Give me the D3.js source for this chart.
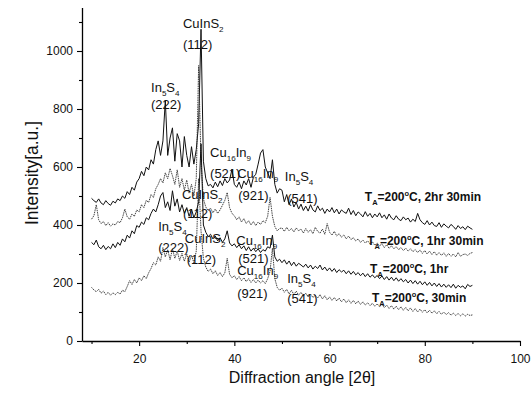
<!DOCTYPE html>
<html><head><meta charset="utf-8">
<script src="https://cdn.jsdelivr.net/npm/d3@7"></script>
<style>body{margin:0;background:#fff}svg{display:block}text{font-family:"Liberation Sans",Arial,sans-serif}</style>
</head><body>
<script>
// ---- data ----
const angles = [
10,10.5,11,11.5,12,12.5,13,13.5,14,14.5,
15,15.5,16,16.5,17,17.5,18,18.5,19,19.5,
20,20.5,21,21.5,22,22.5,23,23.5,24,24.5,
25,25.5,26,26.5,27,27.5,28,28.5,29,29.5,
30,30.5,31,31.5,32,32.5,33,33.5,34,34.5,
35,35.5,36,36.5,37,37.5,38,38.5,39,39.5,
40,40.5,41,41.5,42,42.5,43,43.5,44,44.5,
45,45.5,46,46.5,47,47.5,48,48.5,49,49.5,
50,50.5,51,51.5,52,52.5,53,53.5,54,54.5,
55,55.5,56,56.5,57,57.5,58,58.5,59,59.5,
60,60.5,61,61.5,62,62.5,63,63.5,64,64.5,
65,65.5,66,66.5,67,67.5,68,68.5,69,69.5,
70,70.5,71,71.5,72,72.5,73,73.5,74,74.5,
75,75.5,76,76.5,77,77.5,78,78.5,79,79.5,
80,80.5,81,81.5,82,82.5,83,83.5,84,84.5,
85,85.5,86,86.5,87,87.5,88,88.5,89,89.5,
90];

const int2h30 = [
492,484,478,490,476,470,484,474,468,482,
476,490,484,500,492,515,505,530,520,548,
560,585,570,600,590,625,610,660,690,640,
690,830,640,700,735,620,715,690,600,705,
640,600,670,610,660,750,1075,620,560,535,
540,528,548,532,552,536,560,545,555,592,
540,530,548,525,552,538,560,530,565,575,
610,648,660,600,580,560,625,540,510,525,
520,480,505,470,490,462,478,455,472,450,
465,448,470,452,445,466,450,458,440,455,
445,460,442,455,438,452,445,440,458,436,
450,432,445,438,428,446,430,440,425,438,
428,442,425,435,420,438,424,418,432,420,
415,428,418,424,410,420,412,440,418,408,
402,415,400,410,398,395,408,392,404,396,
390,402,395,385,398,388,394,384,396,390,
385];

const int1h30 = [
420,432,470,418,405,412,398,408,396,404,
400,412,408,425,455,428,420,438,430,452,
445,470,460,485,478,505,495,525,540,560,
545,580,560,595,570,540,590,530,560,520,
555,510,540,500,560,950,620,490,462,450,
458,442,455,440,452,468,485,512,460,440,
432,418,428,410,422,405,415,400,412,398,
410,402,415,408,430,495,430,395,380,388,
390,378,392,380,388,376,390,380,386,372,
388,375,384,370,392,378,372,386,368,405,
375,365,378,362,370,358,366,352,362,350,
356,345,352,340,348,338,345,335,342,330,
338,328,335,322,332,320,328,318,325,315,
322,312,320,310,318,308,315,305,314,302,
312,300,310,298,308,296,305,295,304,292,
302,292,300,290,305,292,298,300,295,302,
305];

const int1h = [
340,332,348,325,318,330,315,326,318,335,
322,340,330,352,342,365,355,380,370,398,
392,410,402,425,418,440,455,445,470,500,
512,460,480,450,518,465,490,445,470,440,
460,430,455,425,445,480,680,400,375,360,
368,352,362,345,356,340,352,380,338,328,
335,322,332,318,328,312,325,310,320,308,
318,305,315,310,325,320,365,290,275,282,
270,280,265,276,260,272,258,268,262,255,
265,252,262,248,258,250,262,245,255,242,
252,240,250,236,246,238,244,232,242,230,
240,228,236,225,234,222,232,220,228,218,
226,215,224,212,222,210,220,208,218,206,
215,204,212,200,210,198,208,196,206,194,
204,192,202,190,200,188,198,186,196,185,
194,184,196,182,192,185,190,180,195,188,
192];

const int30m = [
185,176,170,178,165,172,160,168,158,166,
160,168,162,175,170,188,208,195,212,200,
218,208,225,215,235,250,270,262,290,275,
322,290,315,280,318,285,310,278,302,275,
300,272,295,270,310,560,380,285,255,240,
248,232,242,226,236,222,235,285,230,218,
225,212,222,208,218,205,215,202,212,200,
210,200,208,198,215,240,320,215,185,175,
182,168,178,162,175,160,172,158,168,155,
165,152,162,150,158,148,160,145,156,142,
152,140,150,138,148,135,145,132,142,130,
140,128,138,126,135,124,132,122,130,120,
128,118,126,115,124,112,122,110,120,108,
118,106,116,104,114,102,112,100,110,99,
108,97,106,96,104,94,102,92,100,91,
98,89,96,88,95,87,94,86,92,88,
90];

const xMajorTicks = [20,40,60,80,100];
const xMinorTicks = [10,30,50,70,90];
const yMajorTicks = [0,200,400,600,800,1000];
const yMinorTicks = [100,300,500,700,900,1100];

// peak annotations: [text, angle, intensity]
const peakLabels = [
  ["CuInS_{2}", 29.2, 1079], ["(112)", 29.2, 1007],
  ["In_{5}S_{4}", 22.5, 859], ["(222)", 22.5, 800],
  ["Cu_{16}In_{9}", 34.9, 634], ["(521)", 34.9, 562],
  ["Cu_{16}In_{9}", 40.6, 562], ["(921)", 40.8, 486],
  ["In_{5}S_{4}", 50.6, 552], ["(541)", 51.1, 476],
  ["CuInS_{2}", 29.0, 490], ["(112)", 29.2, 424],
  ["In_{5}S_{4}", 24.0, 379], ["(222)", 24.0, 307],
  ["CuInS_{2}", 29.6, 338], ["(112)", 30.0, 266],
  ["Cu_{16}In_{9}", 40.4, 331], ["(521)", 40.8, 269],
  ["Cu_{16}In_{9}", 40.6, 228], ["(921)", 40.6, 148],
  ["In_{5}S_{4}", 51.1, 200], ["(541)", 51.1, 131]
];
// series labels: [text, angle, intensity]
const seriesLabels = [
  ["T_{A}=200^{o}C, 2hr 30min", 67.4, 483],
  ["T_{A}=200^{o}C, 1hr 30min", 67.9, 331],
  ["T_{A}=200^{o}C, 1hr", 68.5, 234],
  ["T_{A}=200^{o}C, 30min", 68.9, 134]
];
const series = [
  {values: int2h30, dotted: false},
  {values: int1h30, dotted: true},
  {values: int1h, dotted: false},
  {values: int30m, dotted: true}
];

// ---- drawing ----
const W = 531, H = 393;
const svg = d3.select("body").append("svg").attr("width", W).attr("height", H);
svg.append("rect").attr("width", W).attr("height", H).attr("fill", "#fff");

const x = d3.scaleLinear().domain([8, 100]).range([82, 520]);
const y = d3.scaleLinear().domain([0, 1150]).range([341, 7.5]);

const line = d3.line().x((d, i) => x(angles[i])).y(d => y(d));
series.forEach(s => {
  svg.append("path").datum(s.values)
    .attr("d", line)
    .attr("fill", "none")
    .attr("stroke", s.dotted ? "#2e2e2e" : "#111")
    .attr("stroke-width", s.dotted ? 0.9 : 1)
    .attr("stroke-dasharray", s.dotted ? "1.5 0.8" : null)
    .attr("stroke-linejoin", "round");
});

function styleAxis(g) {
  g.selectAll("path.domain").attr("stroke", "#000").attr("stroke-width", 1.3);
  g.selectAll(".tick line").attr("stroke", "#000").attr("stroke-width", 1.1);
  g.selectAll(".tick text").attr("fill", "#111").attr("font-size", 12)
    .attr("font-family", "Liberation Sans, Arial, sans-serif");
}

const gx = svg.append("g").attr("transform", `translate(0,${y(0)})`)
  .call(d3.axisBottom(x).tickValues(xMajorTicks).tickSize(5).tickSizeOuter(0).tickPadding(8).tickFormat(d3.format("d")));
styleAxis(gx);
const gxm = svg.append("g").attr("transform", `translate(0,${y(0)})`)
  .call(d3.axisBottom(x).tickValues(xMinorTicks).tickSize(3).tickFormat(""));
gxm.select("path.domain").remove();
styleAxis(gxm);

const gy = svg.append("g").attr("transform", `translate(${x(8)},0)`)
  .call(d3.axisLeft(y).tickValues(yMajorTicks).tickSize(5).tickSizeOuter(0).tickPadding(4).tickFormat(d3.format("d")));
styleAxis(gy);
const gym = svg.append("g").attr("transform", `translate(${x(8)},0)`)
  .call(d3.axisLeft(y).tickValues(yMinorTicks).tickSize(3).tickFormat(""));
gym.select("path.domain").remove();
styleAxis(gym);

// axis titles
svg.append("text").attr("x", 302).attr("y", 383).attr("text-anchor", "middle")
  .attr("font-size", 16).attr("fill", "#111").text("Diffraction angle [2θ]");
svg.append("text").attr("transform", "translate(38,173) rotate(-90)").attr("text-anchor", "middle")
  .attr("font-size", 17.5).attr("fill", "#111").text("Intensity[a.u.]");

// rich text with _{sub} and ^{sup}
function rich(str, px, py, size, weight) {
  const t = svg.append("text").attr("x", px).attr("y", py)
    .attr("font-size", size).attr("font-weight", weight).attr("fill", "#111");
  const re = /([_^])\{([^}]*)\}|([^_^]+)/g;
  let m, shift = 0;
  while ((m = re.exec(str)) !== null) {
    if (m[3]) {
      t.append("tspan").attr("dy", -shift).text(m[3]);
      shift = 0;
    } else {
      const s = m[1] === "_" ? size * 0.32 : -size * 0.42;
      t.append("tspan").attr("dy", s - shift).attr("font-size", size * 0.62).text(m[2]);
      shift = s;
    }
  }
  return t;
}

peakLabels.forEach(([s, a, v]) => rich(s, x(a), y(v), 13, "normal"));
seriesLabels.forEach(([s, a, v]) => rich(s, x(a), y(v), 12, "bold"));
</script>
</body></html>
